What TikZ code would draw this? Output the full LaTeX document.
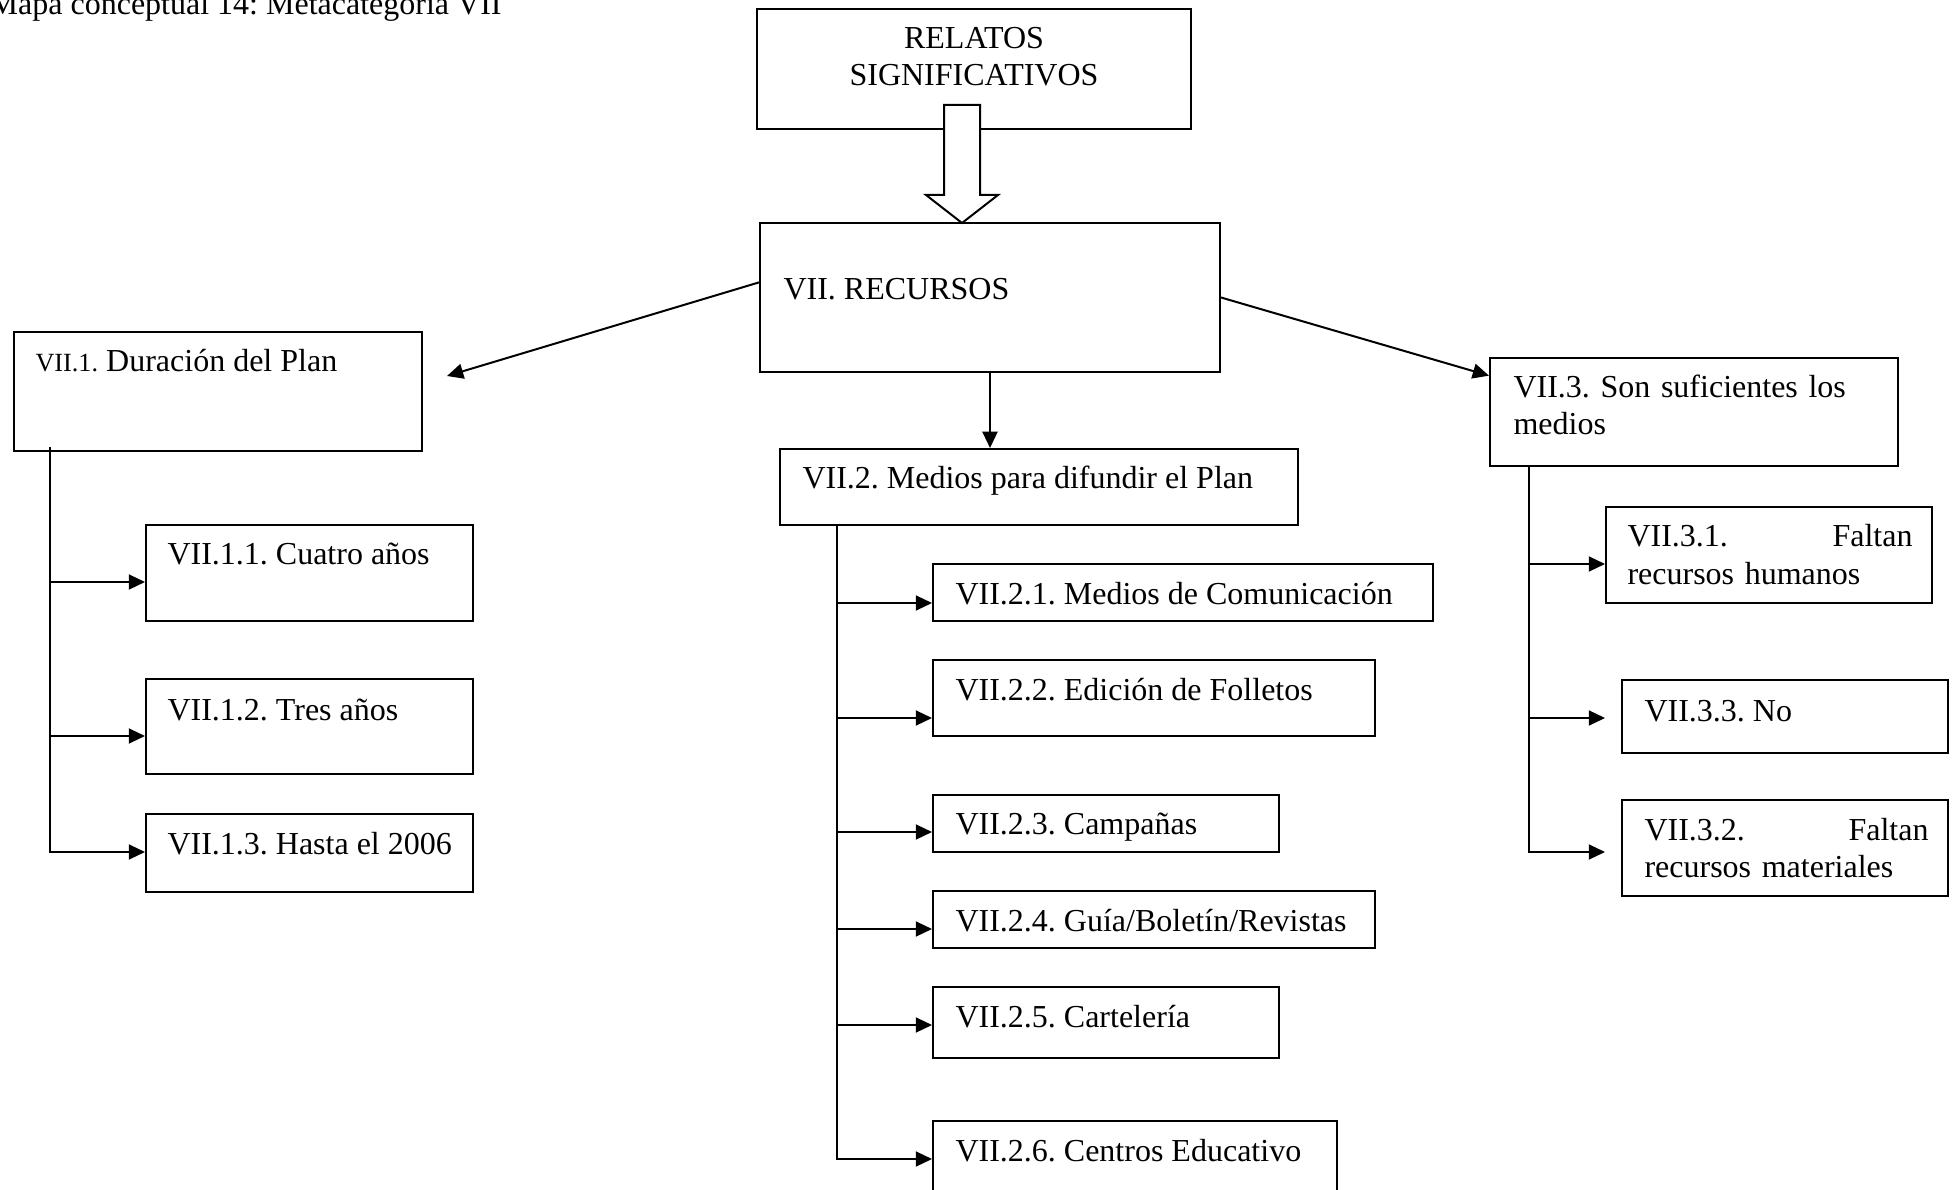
\documentclass[tikz,border=0pt]{standalone}
\usepackage{fontspec}
\setmainfont{Liberation Serif}
\usetikzlibrary{arrows.meta,fit,calc}
\frenchspacing
\begin{document}
\begin{tikzpicture}[x=0.4pt,y=-0.4pt,
  box/.style={draw, line width=0.8pt, inner sep=0pt},
  txt/.style={inner sep=0pt, font=\fontsize{12.8}{14.8}\selectfont, anchor=base west},
  conn/.style={line width=0.8pt},
  arr/.style={conn, -{Triangle[length=6.5pt,width=6pt]}}]
\clip (0,0) rectangle (1957,1190);

% title
\node[txt, anchor=base east] (title) at (502,15) {Mapa conceptual 14: Metacategoría VII};

% top box and main category
\node[box, fit={(757,9) (1191,129)}] (rel) {};
\node[txt, text width=150pt, align=center, anchor=base] (rel-t) at (974,49) {RELATOS\\SIGNIFICATIVOS};
\node[box, fit={(760,223) (1220,372)}] (rec) {};
\node[txt] (rec-t) at (783,300) {VII. RECURSOS};

% hollow block arrow between the two
\filldraw[fill=white, conn] (944,105) -- (944,195) -- (926,195) -- (962,223)
  -- (998,195) -- (980,195) -- (980,105) -- cycle;

% first level
\node[box, fit={(14,332) (422,451)}] (d1) {};
\node[txt] (d1-t) at (35,372) {{\fontsize{10.5}{12}\selectfont VII.1.} Duración del Plan};
\node[box, fit={(780,449) (1298,525)}] (d2) {};
\node[txt] (d2-t) at (802,489) {VII.2. Medios para difundir el Plan};
\node[box, fit={(1490,358) (1898,466)}] (d3) {};
\node[txt, text width=150pt, align=left] (d3-t) at (1513,398) {VII.3. Son suficientes los\\medios};

\coordinate (d1in) at (447,376);
\draw[arr] ($(rec.north west)!0.4!(rec.south west)$) -- (d1in);
\draw[arr] (rec.east) -- ($(d3.north west)!0.17!(d3.south west)$);
\draw[arr] (rec.south) -- (rec.south |- d2.north);

% VII.1 branch
\node[box, fit={(146,525) (473,621)}] (d11) {};
\node[txt] (d11-t) at (167,565) {VII.1.1. Cuatro años};
\node[box, fit={(146,679) (473,774)}] (d12) {};
\node[txt] (d12-t) at (167,720) {VII.1.2. Tres años};
\node[box, fit={(146,814) (473,892)}] (d13) {};
\node[txt] (d13-t) at (167,854) {VII.1.3. Hasta el 2006};

\coordinate (l0) at (50,447);
\coordinate (l1) at (50,582);
\coordinate (l2) at (50,736);
\coordinate (l3) at (50,852);
\draw[arr] (l0) |- (l3 -| d13.west);
\draw[arr] (l1) -- (l1 -| d11.west);
\draw[arr] (l2) -- (l2 -| d12.west);

% VII.2 branch
\node[box, fit={(933,564) (1433,621)}] (d21) {};
\node[txt] (d21-t) at (955,604) {VII.2.1. Medios de Comunicación};
\node[box, fit={(933,660) (1375,736)}] (d22) {};
\node[txt] (d22-t) at (955,700) {VII.2.2. Edición de Folletos};
\node[box, fit={(933,795) (1279,852)}] (d23) {};
\node[txt] (d23-t) at (955,834) {VII.2.3. Campañas};
\node[box, fit={(933,891) (1375,948)}] (d24) {};
\node[txt] (d24-t) at (955,931) {VII.2.4. Guía/Boletín/Revistas};
\node[box, fit={(933,987) (1279,1058)}] (d25) {};
\node[txt] (d25-t) at (955,1027) {VII.2.5. Cartelería};
\node[box, fit={(933,1121) (1337,1230)}] (d26) {};
\node[txt] (d26-t) at (955,1161) {VII.2.6. Centros Educativo};

\coordinate (m0) at (837,525);
\coordinate (m1) at (837,603);
\coordinate (m2) at (837,718);
\coordinate (m3) at (837,832);
\coordinate (m4) at (837,929);
\coordinate (m5) at (837,1025);
\coordinate (m6) at (837,1159);
\draw[arr] (m0) |- (m6 -| d26.west);
\foreach \i in {1,...,5} {
  \draw[arr] (m\i) -- (m\i -| d2\i.west);
}

% VII.3 branch
\node[box, fit={(1606,507) (1932,603)}] (d31) {};
\node[txt, text width=114pt, align=left] (d31-t) at (1627,547) {VII.3.1.\hfill Faltan\\recursos humanos};
\node[box, fit={(1622,680) (1948,753)}] (d33) {};
\node[txt] (d33-t) at (1644,721) {VII.3.3. No};
\node[box, fit={(1622,800) (1948,896)}] (d32) {};
\node[txt, text width=113.6pt, align=left] (d32-t) at (1644,840) {VII.3.2.\hfill Faltan\\recursos materiales};

\coordinate (r0) at (1529,466);
\coordinate (r1) at (1529,564);
\coordinate (r2) at (1529,718);
\coordinate (r3) at (1529,852);
\draw[arr] (r0) |- (r3 -| d31.west);
\draw[arr] (r1) -- (r1 -| d31.west);
\draw[arr] (r2) -- (r2 -| d31.west);
\end{tikzpicture}
\end{document}
